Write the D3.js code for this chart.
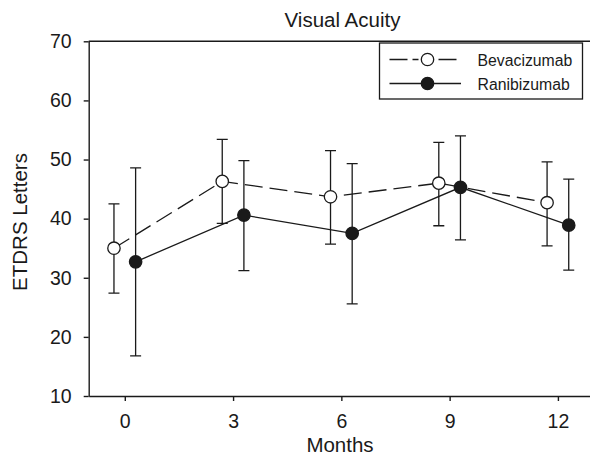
<!DOCTYPE html>
<html>
<head>
<meta charset="utf-8">
<script src="https://cdn.jsdelivr.net/npm/d3@7"></script>
<style>
  body { margin: 0; background: #fff; }
  svg { font-family: 'Liberation Sans', Arial, sans-serif; }
</style>
</head>
<body>
<svg id="container" width="590" height="458"></svg>
<script>
const months = [0, 3, 6, 9, 12]
const yTicks = [10, 20, 30, 40, 50, 60, 70]

// mean and error bar ends
const bevMean = [35.0, 46.3, 43.7, 46.0, 42.7]
const bevLow = [27.4, 39.2, 35.7, 38.8, 35.4]
const bevHigh = [42.5, 53.4, 51.5, 52.9, 49.6]

const ranMean = [32.7, 40.6, 37.5, 45.3, 38.9]
const ranLow = [16.8, 31.2, 25.6, 36.4, 31.3]
const ranHigh = [48.6, 49.8, 49.3, 54.0, 46.7]

const series = [
  { name: 'Bevacizumab', offset: -0.3, mean: bevMean, low: bevLow, high: bevHigh, fill: '#fff', dash: '18,7' },
  { name: 'Ranibizumab', offset: 0.3, mean: ranMean, low: ranLow, high: ranHigh, fill: '#1a1a1a', dash: null },
]

const ink = '#1a1a1a'
const svg = d3.select('#container')

const x = d3.scaleLinear().domain([-1, 13]).range([88.7, 594])
const y = d3.scaleLinear().domain([10, 70]).range([396, 41.3])

// title
svg.append('text')
  .attr('x', 342.5).attr('y', 27)
  .attr('text-anchor', 'middle')
  .style('font-size', '20.5px')
  .attr('fill', ink)
  .text('Visual Acuity')

// axes
const yAxis = svg.append('g')
  .attr('transform', `translate(${x(-1)},0)`)
  .call(d3.axisLeft(y).tickValues(yTicks).tickSize(5).tickPadding(12).tickSizeOuter(0))
yAxis.selectAll('text').style('font-size', '19.5px').attr('fill', ink)

const xAxis = svg.append('g')
  .attr('transform', `translate(0,${y(10)})`)
  .call(d3.axisBottom(x).tickValues(months).tickSize(5).tickPadding(13).tickSizeOuter(0))
xAxis.selectAll('text').style('font-size', '19.5px').attr('fill', ink)

svg.selectAll('.domain, .tick line').attr('stroke', ink).attr('stroke-width', 1.4)

// top frame line
svg.append('line')
  .attr('x1', x(-1)).attr('x2', x(13))
  .attr('y1', y(70)).attr('y2', y(70))
  .attr('stroke', ink).attr('stroke-width', 1.4)

svg.append('text')
  .attr('x', 340).attr('y', 452)
  .attr('text-anchor', 'middle')
  .style('font-size', '20.5px')
  .attr('fill', ink)
  .text('Months')

svg.append('text')
  .attr('transform', `translate(27,222) rotate(-90)`)
  .attr('text-anchor', 'middle')
  .style('font-size', '20.5px')
  .attr('fill', ink)
  .text('ETDRS Letters')

// error bars and lines
series.forEach((s) => {
  const g = svg.append('g')
  const pts = months.map((m, i) => ({ m: m + s.offset, mean: s.mean[i], low: s.low[i], high: s.high[i] }))

  g.selectAll('.err')
    .data(pts)
    .enter()
    .append('path')
    .attr('d', (d) => {
      const cx = x(d.m)
      return `M${cx},${y(d.low)}V${y(d.high)}M${cx - 5.5},${y(d.high)}H${cx + 5.5}M${cx - 5.5},${y(d.low)}H${cx + 5.5}`
    })
    .attr('stroke', ink).attr('stroke-width', 1.3).attr('fill', 'none')

  const line = d3.line().x((d) => x(d.m)).y((d) => y(d.mean))
  g.append('path')
    .datum(pts)
    .attr('d', line)
    .attr('fill', 'none')
    .attr('stroke', ink)
    .attr('stroke-width', 1.3)
    .attr('stroke-dasharray', s.dash)

  s.pts = pts
})

// markers on top
series.forEach((s) => {
  svg.append('g').selectAll('circle')
    .data(s.pts)
    .enter()
    .append('circle')
    .attr('cx', (d) => x(d.m))
    .attr('cy', (d) => y(d.mean))
    .attr('r', 6.2)
    .attr('fill', s.fill)
    .attr('stroke', ink)
    .attr('stroke-width', 1.3)
})

// legend
const legend = svg.append('g')
legend.append('rect')
  .attr('x', 379.5).attr('y', 43).attr('width', 203).attr('height', 56)
  .attr('fill', '#fff').attr('stroke', ink).attr('stroke-width', 1.3)

series.forEach((s, i) => {
  const ly = 59.5 + i * 24
  legend.append('line')
    .attr('x1', 389.5).attr('x2', 461)
    .attr('y1', ly).attr('y2', ly)
    .attr('stroke', ink).attr('stroke-width', 1.3)
    .attr('stroke-dasharray', s.dash ? '18,5,6,20,18' : null)
  legend.append('circle')
    .attr('cx', 427.5).attr('cy', ly).attr('r', 6.2)
    .attr('fill', s.fill).attr('stroke', ink).attr('stroke-width', 1.3)
  legend.append('text')
    .attr('x', 477.5).attr('y', ly + 6.5)
    .style('font-size', '15.8px')
    .attr('fill', ink)
    .text(s.name)
})
</script>
</body>
</html>
